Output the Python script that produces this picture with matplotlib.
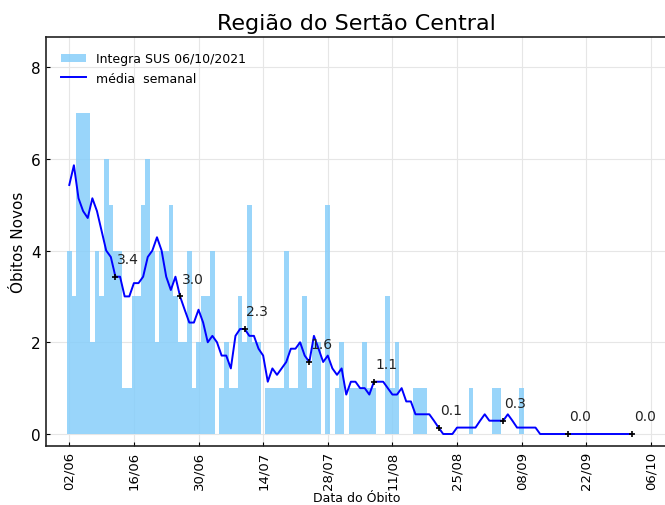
import matplotlib
matplotlib.use('Agg')
import matplotlib.pyplot as plt
import matplotlib.dates as mdates
import matplotlib.ticker as mticker
import pandas as pd

# ---- data ----
start_date = '2021-06-02'
obitos_novos = [
    4, 3, 7, 7, 7, 2, 4, 3, 6, 5,
    4, 4, 1, 1, 3, 3, 5, 6, 4, 2,
    4, 4, 5, 3, 2, 2, 4, 1, 2, 3,
    3, 4, 0, 1, 2, 1, 1, 3, 2, 5,
    2, 2, 0, 1, 1, 1, 1, 4, 1, 1,
    2, 3, 1, 2, 2, 0, 5, 0, 1, 2,
    0, 1, 1, 1, 2, 1, 1, 0, 0, 3,
    1, 2, 0, 0, 0, 1, 1, 1, 0, 0,
    0, 0, 0, 0, 0, 0, 0, 1, 0, 0,
    0, 0, 1, 1, 0, 0, 0, 0, 1, 0,
    0, 0, 0, 0, 0, 0, 0, 0, 0, 0,
    0, 0, 0, 0, 0, 0, 0, 0, 0, 0,
    0, 0, 0,
]
media_semanal = [
    5.43, 5.86, 5.14, 4.86, 4.71, 5.14, 4.86, 4.43, 4.00, 3.86,
    3.43, 3.43, 3.00, 3.00, 3.29, 3.29, 3.43, 3.86, 4.00, 4.29,
    4.00, 3.43, 3.14, 3.43, 3.00, 2.71, 2.43, 2.43, 2.71, 2.43,
    2.00, 2.14, 2.00, 1.71, 1.71, 1.43, 2.14, 2.29, 2.29, 2.14,
    2.14, 1.86, 1.71, 1.14, 1.43, 1.29, 1.43, 1.57, 1.86, 1.86,
    2.00, 1.71, 1.57, 2.14, 1.86, 1.57, 1.71, 1.43, 1.29, 1.43,
    0.86, 1.14, 1.14, 1.00, 1.00, 0.86, 1.14, 1.14, 1.14, 1.00,
    0.86, 0.86, 1.00, 0.71, 0.71, 0.43, 0.43, 0.43, 0.43, 0.29,
    0.14, 0.00, 0.00, 0.00, 0.14, 0.14, 0.14, 0.14, 0.14, 0.29,
    0.43, 0.29, 0.29, 0.29, 0.29, 0.43, 0.29, 0.14, 0.14, 0.14,
    0.14, 0.14, 0.00, 0.00, 0.00, 0.00, 0.00, 0.00, 0.00, 0.00,
    0.00, 0.00, 0.00, 0.00, 0.00, 0.00, 0.00, 0.00, 0.00, 0.00,
    0.00, 0.00, 0.00,
]
# days (index) carrying the weekly annotation
annot_idx = [10, 24, 38, 52, 66, 80, 94, 108, 122]
tick_dates = ['02/06', '16/06', '30/06', '14/07', '28/07', '11/08',
              '25/08', '08/09', '22/09', '06/10']
titulo = 'Região do Sertão Central'
legenda_barras = 'Integra SUS 06/10/2021'
legenda_linha = 'média  semanal'

# ---- figure ----
dates = pd.date_range(start_date, periods=len(obitos_novos), freq='D')
t0 = pd.Timestamp(start_date)

fig = plt.figure(figsize=(6.65, 5.06), dpi=100)
ax = fig.add_axes([0.0687, 0.1172, 0.9358, 0.8071])

ax.grid(True, color='#e6e6e6', linewidth=0.8, zorder=0)
ax.set_axisbelow(True)

bars = ax.bar(dates, obitos_novos, width=1.0, color='#87CEFA', alpha=0.85,
              linewidth=0, label=legenda_barras, zorder=2)
line, = ax.plot(dates, media_semanal, color='blue', linewidth=1.4,
                label=legenda_linha, zorder=3)

for i in annot_idx:
    d = dates[i]
    v = media_semanal[i]
    ax.plot([d], [v], marker='+', color='black', markersize=5,
            markeredgewidth=1.2, linestyle='none', zorder=4)
    ax.annotate(f'{v:.1f}', xy=(d, v), xytext=(1, 10),
                textcoords='offset points', fontsize=10, color='#222222',
                zorder=5)

tick_pos = [pd.Timestamp(f'2021-{s[3:5]}-{s[0:2]}') for s in tick_dates]
ax.xaxis.set_major_locator(mticker.FixedLocator(mdates.date2num(tick_pos)))
ax.set_xticklabels(tick_dates, rotation=90, fontsize=9.5)
ax.set_xlim(t0 - pd.Timedelta(days=5.11), t0 + pd.Timedelta(days=129.7))

ax.set_ylim(-0.255, 8.65)
ax.set_yticks([0, 2, 4, 6, 8])
ax.tick_params(axis='y', labelsize=11)
ax.tick_params(direction='in', length=3, width=0.8)

for s in ax.spines.values():
    s.set_linewidth(1.2)
    s.set_color('#222222')

ax.set_title(titulo, fontsize=16, pad=6)
ax.set_xlabel('Data do Óbito', fontsize=9, labelpad=1.5)
ax.set_ylabel('Óbitos Novos', fontsize=11)

ax.legend(handles=[bars, line], labels=[legenda_barras, legenda_linha],
          loc='upper left', frameon=False, fontsize=9,
          borderaxespad=0.8, handlelength=2.0)

fig.savefig('out.png', dpi=100)
